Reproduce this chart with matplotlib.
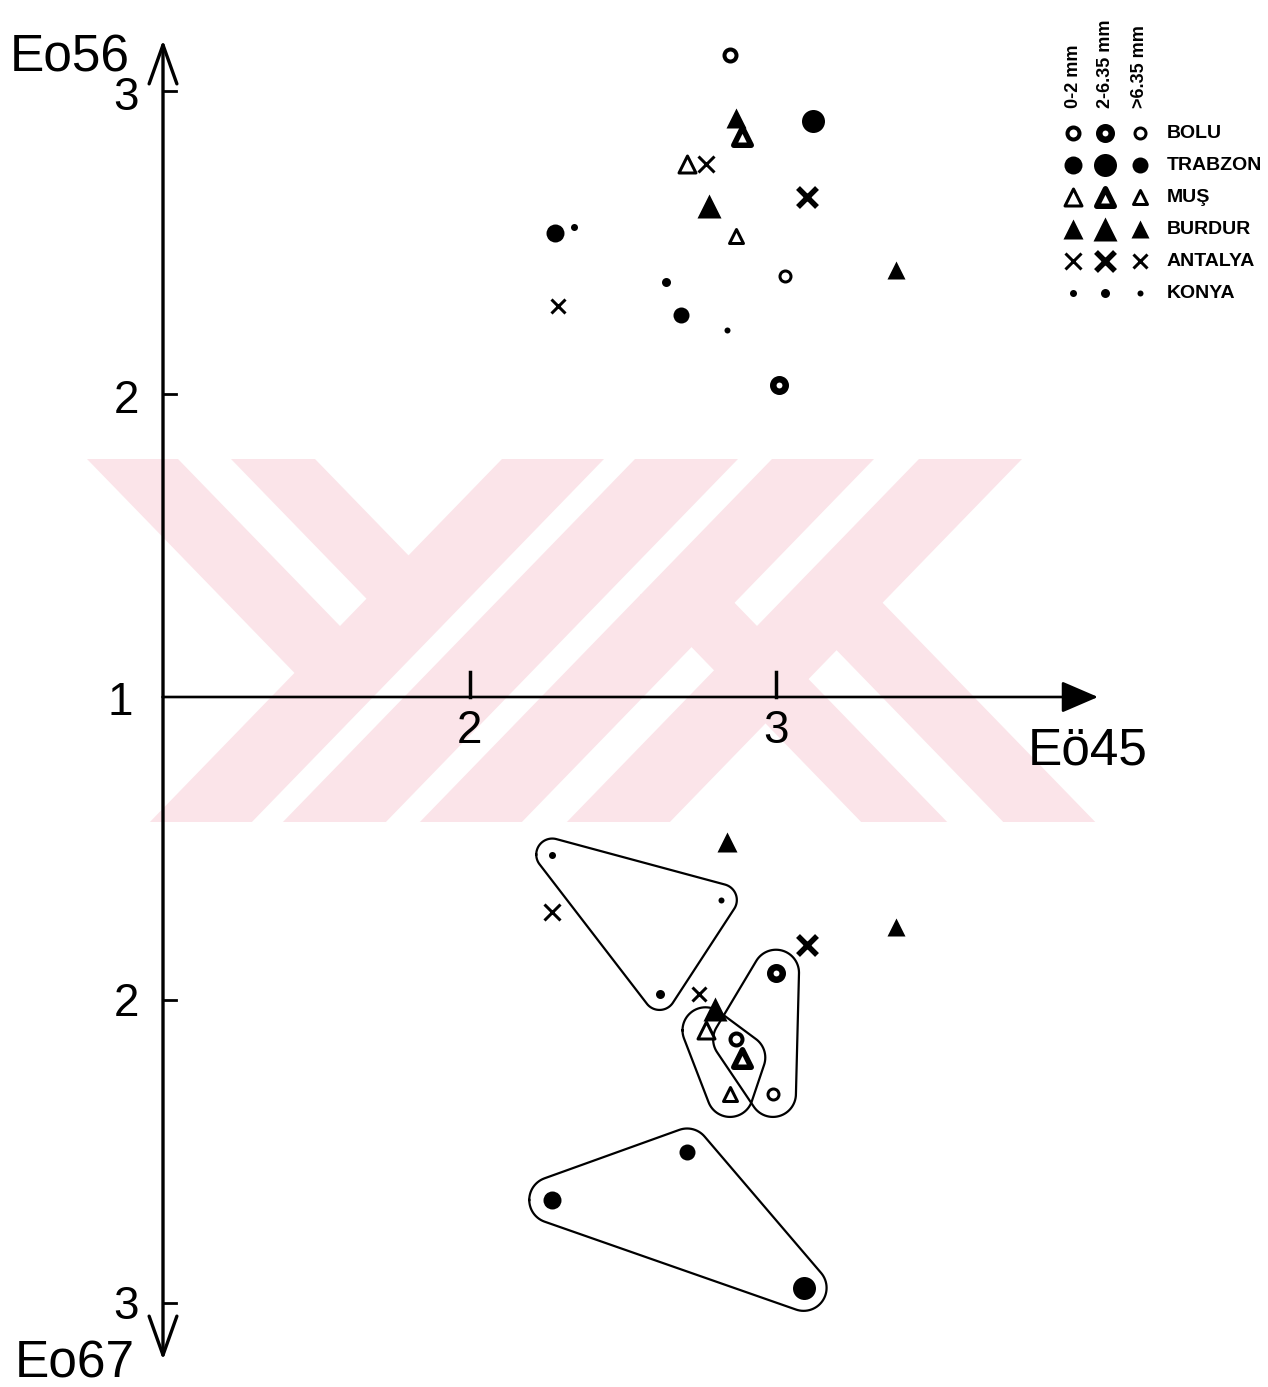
import numpy as np
import matplotlib
matplotlib.use("Agg")
import matplotlib.pyplot as plt
from matplotlib import font_manager
from matplotlib.patches import Polygon

W, H = 1268, 1387
ORIGIN_PX = (163, 697)      # pixel position of the (1, 1) corner
PX_X, PX_Y = 306.5, 303.0   # pixels per unit on each axis

REGIONS = ["BOLU", "TRABZON", "MUŞ", "BURDUR", "ANTALYA", "KONYA"]
SIZE_CLASSES = ["0-2 mm", "2-6.35 mm", ">6.35 mm"]

# each region: values for size classes 0-2, 2-6.35, >6.35
top_eo45 = {
    "BOLU": [2.85, 3.01, 3.03],
    "TRABZON": [2.28, 3.12, 2.69],
    "MUŞ": [2.71, 2.89, 2.87],
    "BURDUR": [2.87, 2.78, 3.39],
    "ANTALYA": [2.77, 3.10, 2.29],
    "KONYA": [2.34, 2.64, 2.84],
}
top_eo56 = {
    "BOLU": [3.12, 2.03, 2.39],
    "TRABZON": [2.53, 2.90, 2.26],
    "MUŞ": [2.76, 2.85, 2.52],
    "BURDUR": [2.91, 2.62, 2.41],
    "ANTALYA": [2.76, 2.65, 2.29],
    "KONYA": [2.55, 2.37, 2.21],
}
bottom_eo45 = {
    "BOLU": [2.87, 3.00, 2.99],
    "TRABZON": [2.27, 3.09, 2.71],
    "MUŞ": [2.77, 2.89, 2.85],
    "BURDUR": [2.84, 2.80, 3.39],
    "ANTALYA": [2.27, 3.10, 2.75],
    "KONYA": [2.27, 2.62, 2.82],
}
bottom_eo67 = {
    "BOLU": [2.13, 1.91, 2.31],
    "TRABZON": [2.66, 2.95, 2.50],
    "MUŞ": [2.10, 2.19, 2.31],
    "BURDUR": [1.48, 2.03, 1.76],
    "ANTALYA": [1.71, 1.82, 1.98],
    "KONYA": [1.52, 1.98, 1.67],
}
circled_groups = ["KONYA", "MUŞ", "BOLU", "TRABZON"]

x_ticks = [2, 3]
up_ticks = [2, 3]
down_ticks = [2, 3]

# marker look per region: shape, filled, sizes (px) and stroke (px) per size class
STYLE = {
    "BOLU": ("o", False, [16, 19, 14], [4.0, 6.5, 3.0]),
    "TRABZON": ("o", True, [18, 23, 16], [0, 0, 0]),
    "MUŞ": ("^", False, [20, 23, 17], [3.0, 5.5, 3.0]),
    "BURDUR": ("^", True, [20, 24, 18], [0, 0, 0]),
    "ANTALYA": ("x", None, [16, 19, 14], [3.0, 5.5, 3.0]),
    "KONYA": ("o", True, [7, 9, 6], [0, 0, 0]),
}
PAD = {"KONYA": 16, "MUŞ": 23, "BOLU": 23, "TRABZON": 23}

available = {f.name for f in font_manager.fontManager.ttflist}
NARROW = next((n for n in ["Liberation Sans Narrow", "DejaVu Sans Condensed"] if n in available), None)


def pt(pixels):
    return pixels * 0.72


def draw_point(ax, x, y, region, k, **kw):
    shape, filled, sizes, strokes = STYLE[region]
    d, lw = sizes[k], strokes[k]
    if shape == "x":
        ax.scatter([x], [y], marker="x", s=pt(d) ** 2, c="k", linewidths=pt(lw), zorder=5, **kw)
    elif filled:
        ax.scatter([x], [y], marker=shape, s=pt(d) ** 2, c="k", linewidths=0, zorder=5, **kw)
    else:
        ax.scatter([x], [y], marker=shape, s=pt(d - lw) ** 2, facecolors="white",
                   edgecolors="k", linewidths=pt(lw), zorder=5, **kw)


def rounded_hull(xs, ys, pad):
    t = np.linspace(0, 2 * np.pi, 72, endpoint=False)
    pts = []
    for x, y in zip(xs, ys):
        for a in t:
            pts.append((x * PX_X + pad * np.cos(a), y * PX_Y + pad * np.sin(a)))
    pts = sorted(pts)

    def cross(o, a, b):
        return (a[0] - o[0]) * (b[1] - o[1]) - (a[1] - o[1]) * (b[0] - o[0])

    lower, upper = [], []
    for p in pts:
        while len(lower) >= 2 and cross(lower[-2], lower[-1], p) <= 0:
            lower.pop()
        lower.append(p)
    for p in reversed(pts):
        while len(upper) >= 2 and cross(upper[-2], upper[-1], p) <= 0:
            upper.pop()
        upper.append(p)
    hull = np.array(lower[:-1] + upper[:-1])
    hull = np.vstack([hull, hull[:1]])
    return hull[:, 0] / PX_X, hull[:, 1] / PX_Y


fig = plt.figure(figsize=(W / 100, H / 100), dpi=100)
ax = fig.add_axes([0, 0, 1, 1])
ax.set_xlim(1 - ORIGIN_PX[0] / PX_X, 1 + (W - ORIGIN_PX[0]) / PX_X)
ax.set_ylim(1 - (H - ORIGIN_PX[1]) / PX_Y, 1 + ORIGIN_PX[1] / PX_Y)
ax.axis("off")

# faint pink watermark stripes (pixel space): x at top edge, width, y range, direction
SLOPE = 0.97
bands = [
    (87, 91, 459, 673, 1), (231, 84, 459, 600, 1),
    (502, 102, 459, 822, -1), (635, 103, 459, 822, -1),
    (772, 102, 459, 822, -1), (919, 103, 459, 822, -1),
    (640, 86, 594, 822, 1), (785, 92, 597, 822, 1),
]
for x0, w, y0, y1, d in bands:
    x1 = x0 + d * SLOPE * (y1 - y0)
    poly = [(x0, y0), (x0 + w, y0), (x1 + w, y1), (x1, y1)]
    poly = [(px / W, 1 - py / H) for px, py in poly]
    ax.add_patch(Polygon(poly, closed=True, transform=fig.transFigure,
                         facecolor="#fbe4e9", edgecolor="none", zorder=0))

# axes lines with arrows
top_tip = 1 + (ORIGIN_PX[1] - 40) / PX_Y
bot_tip = 1 - (1360 - ORIGIN_PX[1]) / PX_Y
right_tip = 1 + (1098 - ORIGIN_PX[0]) / PX_X
for tip in (top_tip, bot_tip):
    ax.annotate("", xy=(1, tip), xytext=(1, 1),
                arrowprops=dict(arrowstyle="->,head_length=0.7,head_width=0.25",
                                lw=2.4, color="k", mutation_scale=40,
                                shrinkA=0, shrinkB=0), zorder=3)
ax.annotate("", xy=(right_tip, 1), xytext=(1, 1),
            arrowprops=dict(arrowstyle="-|>,head_length=0.65,head_width=0.28",
                            lw=1.9, color="k", mutation_scale=35,
                            shrinkA=0, shrinkB=0), zorder=3)

if NARROW:
    tick_font = dict(family=[NARROW, "DejaVu Sans"], fontsize=36, color="k")
else:
    tick_font = dict(family=["Liberation Sans", "DejaVu Sans"], fontsize=33, color="k")
for v in x_ticks:
    ax.plot([v, v], [1, 1 + 25 / PX_Y], color="k", lw=2.5, zorder=3)
    ax.text(v, 1 - 46 / PX_Y, str(v), ha="center", va="baseline", **tick_font)
for v in up_ticks:
    ax.plot([1, 1 + 13 / PX_X], [v, v], color="k", lw=2.0, zorder=3)
    ax.text(1 - 24 / PX_X, v - 19 / PX_Y, str(v), ha="right", va="baseline", **tick_font)
for v in down_ticks:
    ax.plot([1, 1 + 13 / PX_X], [2 - v, 2 - v], color="k", lw=2.0, zorder=3)
    ax.text(1 - 24 / PX_X, 2 - v - 16 / PX_Y, str(v), ha="right", va="baseline", **tick_font)
ax.text(1 - 30 / PX_X, 1 - 18 / PX_Y, "1", ha="right", va="baseline", **tick_font)

label_font = dict(family=["Liberation Sans", "DejaVu Sans"], fontsize=37, color="k")
ax.text(1 - 153 / PX_X, 1 + (ORIGIN_PX[1] - 71) / PX_Y, "Eo56", ha="left", va="baseline", **label_font)
ax.text(1 - 148 / PX_X, 1 - (1377 - ORIGIN_PX[1]) / PX_Y, "Eo67", ha="left", va="baseline", **label_font)
ax.text(1 + (1028 - ORIGIN_PX[0]) / PX_X, 1 - (764 - ORIGIN_PX[1]) / PX_Y, "Eö45",
        ha="left", va="baseline", **label_font)

# data points: upper half is Eo56, lower half is Eo67 mirrored below the Eo45 axis
for region in REGIONS:
    for k in range(len(SIZE_CLASSES)):
        draw_point(ax, top_eo45[region][k], top_eo56[region][k], region, k)
        draw_point(ax, bottom_eo45[region][k], 2 - bottom_eo67[region][k], region, k)

for region in circled_groups:
    hx, hy = rounded_hull(bottom_eo45[region], [2 - v for v in bottom_eo67[region]], PAD[region])
    ax.plot(hx, hy, color="k", lw=1.6, zorder=4)

# legend in the top right corner
col_px = [1073, 1105, 1140]
row_px = [133, 165, 197, 229, 261, 293]
if NARROW:
    leg_font = dict(family=[NARROW, "DejaVu Sans"], fontweight="bold", color="k")
    head_size, name_size = 14, 17
else:
    leg_font = dict(family=["Liberation Sans", "DejaVu Sans"], fontweight="bold", color="k")
    head_size, name_size = 13, 14
for c, name in enumerate(SIZE_CLASSES):
    ax.text(col_px[c] / W, 1 - 108 / H, name, rotation=90, ha="center", va="bottom",
            transform=ax.transAxes, fontsize=head_size, **leg_font)
for r, region in enumerate(REGIONS):
    for c in range(len(SIZE_CLASSES)):
        draw_point(ax, col_px[c] / W, 1 - row_px[r] / H, region, c, transform=ax.transAxes)
    ax.text(1167 / W, 1 - row_px[r] / H, region, ha="left", va="center",
            transform=ax.transAxes, fontsize=name_size, **leg_font)

fig.savefig("out.png", dpi=100)
